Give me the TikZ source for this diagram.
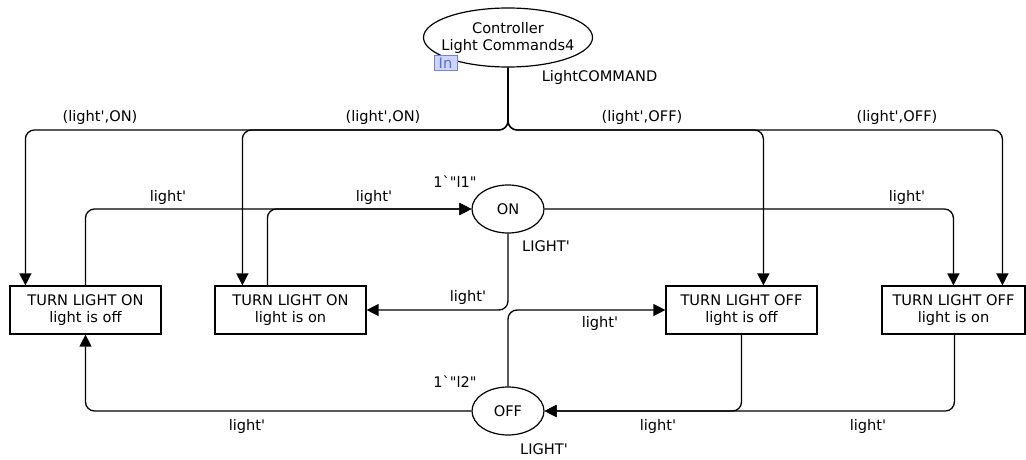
\documentclass[tikz,border=0pt]{standalone}
\usepackage{fontspec}
\setmainfont[Ligatures=TeXOff]{DejaVu Sans}
\usetikzlibrary{arrows.meta,shapes.geometric}
\definecolor{infill}{RGB}{205,213,250}
\definecolor{indraw}{RGB}{110,130,230}
\definecolor{intext}{RGB}{90,110,220}
\begin{document}
\begin{tikzpicture}[x=1pt,y=-1pt,
  every node/.style={font=\fontsize{14.6}{17}\selectfont},
  trans/.style={draw, line width=1.2pt, minimum width=151pt, minimum height=48pt, align=center, inner sep=0pt},
  place/.style={draw, ellipse, line width=1.2pt, inner sep=0pt, align=center},
  arc/.style={line width=1.3pt, rounded corners=9pt, -{Triangle[length=12pt,width=12pt]}},
  lbl/.style={inner sep=0pt}
]
\useasboundingbox (0,0) rectangle (1026,460);

% places
\node[place, minimum width=169pt, minimum height=59pt] (ctrl) at (508,37.5)
  {\makebox[90pt]{Controller}\\\makebox[90pt]{Light Commands4}};
\node[draw=indraw, fill=infill, text=intext, line width=0.8pt, minimum width=23pt, minimum height=15pt, inner sep=0pt] (in) at (445.5,63) {In};
\node[place, minimum width=72pt, minimum height=48pt] (on) at (508,209) {ON};
\node[place, minimum width=72pt, minimum height=48pt] (off) at (508,411) {OFF};

% transitions
\node[trans] (t1) at (85.5,310) {TURN LIGHT ON\\light is off};
\node[trans] (t2) at (290.5,310) {TURN LIGHT ON\\light is on};
\node[trans] (t3) at (741.5,310) {TURN LIGHT OFF\\light is off};
\node[trans, minimum width=143pt] (t4) at (953.5,310) {TURN LIGHT OFF\\light is on};

% controller fork
\coordinate (split) at (508,130);
\draw[arc] (ctrl.south) -- (split) -| ([xshift=16pt]t1.north west);
\draw[arc] (ctrl.south) -- (split) -| ([xshift=28pt]t2.north west);
\draw[arc] (ctrl.south) -- (split) -| ([xshift=98pt]t3.north west);
\draw[arc] (ctrl.south) -- (split) -| ([xshift=121pt]t4.north west);

% ON place arcs
\draw[arc] (t1.north) |- (on.west);
\draw[arc] ([xshift=53pt]t2.north west) |- (on.west);
\draw[arc] (on.east) -| ([xshift=72pt]t4.north west);
\draw[arc] (on.south) |- (t2.east);

% OFF place arcs
\draw[arc] (off.north) |- (t3.west);
\draw[arc] (off.west) -| (t1.south);
\draw[arc] (t3.south) |- (off.east);
\draw[arc] ([xshift=73pt]t4.south west) |- (off.east);

% labels
\node[lbl] (lcmd) at (599.5,77) {LightCOMMAND};
\node[lbl] (e1) at (100,117) {(light',ON)};
\node[lbl] (e2) at (383,117) {(light',ON)};
\node[lbl] (e3) at (642,117) {(light',OFF)};
\node[lbl] (e4) at (897,117) {(light',OFF)};
\node[lbl] (a1) at (168,197) {light'};
\node[lbl] (a2) at (374,197) {light'};
\node[lbl] (m1) at (455,182) {1`"l1"};
\node[lbl] (a3) at (907,197) {light'};
\node[lbl] (ty1) at (546,246) {LIGHT'};
\node[lbl] (a4) at (468,297) {light'};
\node[lbl] (a5) at (600,323) {light'};
\node[lbl] (m2) at (455,382) {1`"l2"};
\node[lbl] (a6) at (247,426) {light'};
\node[lbl] (a7) at (658,426) {light'};
\node[lbl] (a8) at (868,426) {light'};
\node[lbl] (ty2) at (544,449) {LIGHT'};
\end{tikzpicture}
\end{document}
